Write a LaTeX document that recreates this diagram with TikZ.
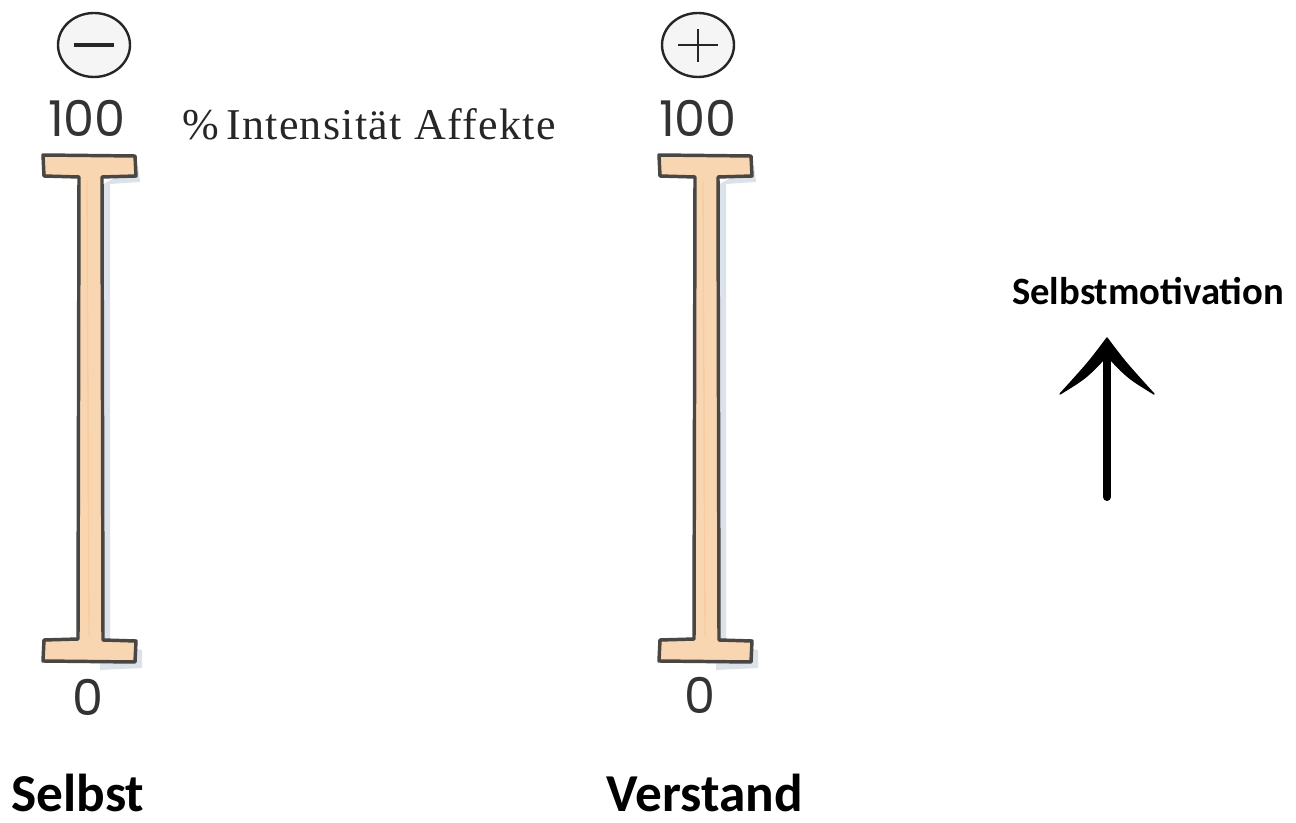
\documentclass[tikz,border=0pt]{standalone}
\usepackage{fontspec}
\setmainfont{Liberation Serif}
\newfontfamily\lab{Carlito}
\newfontfamily\num{Poppins}
\usetikzlibrary{arrows.meta,calc,shapes.geometric}
\definecolor{peach}{HTML}{F8D6B2}
\definecolor{beamline}{HTML}{4A4643}
\definecolor{shadowc}{HTML}{DCE2EA}
\tikzset{
  beam/.style={fill=peach, draw=beamline, line width=2.6pt, line join=round},
  beamshadow/.style={fill=shadowc, draw=none},
  sign/.style={ellipse, draw=black!85, line width=1.8pt, fill=black!4, minimum width=54pt, minimum height=48pt, inner sep=0pt},
  numlbl/.style={font=\num\fontsize{37}{37}\selectfont, text=black!80, inner sep=0pt},
  boldlbl/.style={font=\lab\bfseries\fontsize{40}{40}\selectfont, inner sep=0pt},
  motlbl/.style={font=\lab\bfseries\fontsize{29}{29}\selectfont, inner sep=0pt},
  serlbl/.style={font=\addfontfeatures{LetterSpace=3}\fontsize{33}{33}\selectfont, text=black!85, inner sep=0pt},
  shaft/.style={line width=6pt, line cap=round},
  headfill/.style={fill=black, draw=black, line width=1pt, line join=round}
}
\newcommand{\ibeam}[1]{%
  \fill[beamshadow] (#1+48,165) -- (#1+50,182) -- (#1+20,184) -- (#1+20,645) -- (#1+52,650) -- (#1+52,668) -- (#1+10,670) -- (#1+10,186) -- cycle;
  \draw[beam] (#1-47,155) -- (#1+45,156) -- (#1+46,176) -- (#1+12,177) -- (#1+13,640) -- (#1+46,641) -- (#1+45,662) -- (#1-47,661) -- (#1-46,640) -- (#1-12,639) -- (#1-11,177) -- (#1-46,176) -- cycle;
  \draw[peach!70!orange, line width=1pt, opacity=.4] (#1-3,180) -- (#1-1,636);
}
\begin{document}
\begin{tikzpicture}[x=0.75pt,y=-0.75pt]
\useasboundingbox (0,0) rectangle (1296,823);
% beams
\ibeam{90}
\ibeam{706}
% signs
\node[sign] (minus) at (94,45) {};
\draw[black!85, line width=3pt] (74,45) -- (114,45);
\node[sign] (plus) at (698,45) {};
\draw[black!85, line width=1.8pt] (678,45) -- (718,45) (698,29) -- (698,62);
% numbers
\node[numlbl] (l100) at (87,118) {100};
\node[numlbl] (r100) at (698,118) {100};
\node[numlbl] (l0) at (88,697) {0};
\node[numlbl] (r0) at (700,695) {0};
% labels
\node[serlbl, anchor=base west] (aff) at (182,140) {\%\,Intensität Affekte};
\node[boldlbl, anchor=base] (selbst) at (78,811) {Selbst};
\node[boldlbl, anchor=base] (verstand) at (705,811) {Verstand};
\node[motlbl, anchor=base] (mot) at (1148,305) {Selbstmotivation};
% arrow
\coordinate (abase) at (1107,497);
\coordinate (atip) at (1107,338);
\coordinate (al) at (1060,394);
\coordinate (ar) at (1154,394);
\draw[shaft] (abase) -- ($(atip)+(0,14)$);
\filldraw[headfill] (atip) .. controls (1089,362) .. (al) .. controls (1086,378) .. (1107,356) .. controls (1128,378) .. (ar) .. controls (1125,362) .. (atip) -- cycle;
\end{tikzpicture}
\end{document}
